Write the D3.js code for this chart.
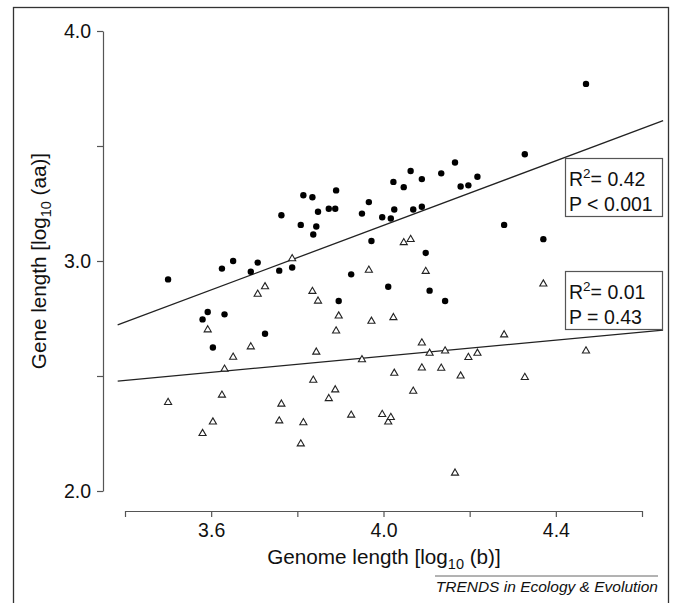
<!DOCTYPE html>
<html>
<head>
<meta charset="utf-8">
<script src="https://cdn.jsdelivr.net/npm/d3@7"></script>
<style>
  html, body { margin: 0; padding: 0; background: #fff; }
  svg { display: block; }
  text { font-family: "Liberation Sans", Arial, Helvetica, sans-serif; fill: #111; }
</style>
</head>
<body>
<svg id="chart" width="679" height="603"></svg>
<script>
// ---- data ----
const genomeLength = [3.50, 3.58, 3.592, 3.604, 3.625, 3.631, 3.651, 3.692, 3.708, 3.725,
  3.758, 3.763, 3.788, 3.808, 3.814, 3.835, 3.837, 3.844, 3.848, 3.873,
  3.888, 3.890, 3.896, 3.925, 3.950, 3.966, 3.972, 3.997, 4.011, 4.017,
  4.023, 4.025, 4.047, 4.063, 4.069, 4.089, 4.089, 4.098, 4.107, 4.134,
  4.143, 4.166, 4.179, 4.197, 4.218, 4.280, 4.328, 4.371, 4.470];
const geneLengthFilled = [2.920, 2.746, 2.778, 2.624, 2.967, 2.768, 3.000, 2.953, 2.993, 2.684,
  2.958, 3.199, 2.972, 3.157, 3.286, 3.277, 3.115, 3.150, 3.214, 3.227,
  3.227, 3.307, 2.826, 2.942, 3.206, 3.256, 3.087, 3.190, 2.888, 3.185,
  3.344, 3.224, 3.321, 3.391, 3.224, 3.356, 3.236, 3.035, 2.871, 3.381,
  2.826, 3.428, 3.324, 3.329, 3.366, 3.157, 3.464, 3.095, 3.770];
const geneLengthOpen = [2.385, 2.250, 2.701, 2.300, 2.417, 2.530, 2.582, 2.627, 2.856, 2.888,
  2.305, 2.378, 3.010, 2.205, 2.297, 2.868, 2.482, 2.604, 2.826, 2.402,
  2.440, 2.696, 2.761, 2.330, 2.571, 2.960, 2.738, 2.333, 2.300, 2.320,
  2.754, 2.512, 3.080, 3.094, 2.434, 2.644, 2.535, 2.955, 2.599, 2.534,
  2.609, 2.078, 2.500, 2.581, 2.599, 2.679, 2.494, 2.900, 2.609];
const fitIntercept = [0.347, 1.886];
const fitSlope = [0.702, 0.175];
const fitR2 = ["0.42", "0.01"];
const fitP = ["P < 0.001", "P = 0.43"];
const xTicks = [3.4, 3.6, 3.8, 4.0, 4.2, 4.4, 4.6];
const xTickLabels = ["3.6", "4.0", "4.4"];
const yTicks = [2.0, 2.5, 3.0, 3.5, 4.0];
const yTickLabels = ["2.0", "3.0", "4.0"];
const plotXRange = [3.383, 4.649];
const footer = "TRENDS in Ecology & Evolution";

// ---- drawing ----
const svg = d3.select("#chart");
const x = d3.scaleLinear().domain([3.4, 4.6]).range([125, 642]);
const y = d3.scaleLinear().domain([2.0, 4.0]).range([491, 31]);

// outer frame
svg.append("rect").attr("x", 13.5).attr("y", 7.5).attr("width", 655).attr("height", 610)
  .attr("fill", "none").attr("stroke", "#333").attr("stroke-width", 1.3);

// y axis
const yAxis = d3.axisLeft(y).tickValues(yTicks).tickSizeInner(6).tickSizeOuter(0).tickPadding(6)
  .tickFormat(d => yTickLabels.includes(d.toFixed(1)) ? d.toFixed(1) : "");
const gy = svg.append("g").attr("transform", "translate(103,0)").call(yAxis);
gy.selectAll("path, line").attr("stroke", "#555").attr("stroke-width", 1.2);
gy.selectAll("text").attr("font-size", 19.5).attr("fill", "#111")
  .attr("font-family", "Liberation Sans, Arial, sans-serif");

// x axis
const xAxis = d3.axisBottom(x).tickValues(xTicks).tickSizeInner(6).tickSizeOuter(0).tickPadding(6)
  .tickFormat(d => xTickLabels.includes(d.toFixed(1)) ? d.toFixed(1) : "");
const gx = svg.append("g").attr("transform", "translate(0,511)").call(xAxis);
gx.selectAll("path, line").attr("stroke", "#555").attr("stroke-width", 1.2);
gx.selectAll("text").attr("font-size", 19.5).attr("fill", "#111")
  .attr("font-family", "Liberation Sans, Arial, sans-serif");

// axis titles
const xt = svg.append("text").attr("x", 384).attr("y", 564).attr("text-anchor", "middle").attr("font-size", 20.7);
xt.append("tspan").text("Genome length [log");
xt.append("tspan").attr("font-size", 14.5).attr("dy", 5).text("10");
xt.append("tspan").attr("dy", -5).text(" (b)]");

const yt = svg.append("text").attr("transform", "translate(46,261) rotate(-90)")
  .attr("text-anchor", "middle").attr("font-size", 20.7);
yt.append("tspan").text("Gene length [log");
yt.append("tspan").attr("font-size", 14.5).attr("dy", 5).text("10");
yt.append("tspan").attr("dy", -5).text(" (aa)]");

// regression lines
fitIntercept.forEach((a, i) => {
  const b = fitSlope[i];
  svg.append("line")
    .attr("x1", x(plotXRange[0])).attr("y1", y(a + b * plotXRange[0]))
    .attr("x2", x(plotXRange[1])).attr("y2", y(a + b * plotXRange[1]))
    .attr("stroke", "#222").attr("stroke-width", 1.3);
});

// open triangles
const tri = d3.symbol().type(d3.symbolTriangle).size(22);
svg.append("g").selectAll("path").data(genomeLength).join("path")
  .attr("d", tri)
  .attr("transform", (d, i) => `translate(${x(d)},${y(geneLengthOpen[i])})`)
  .attr("fill", "#fff").attr("stroke", "#222").attr("stroke-width", 1.1);

// filled circles
svg.append("g").selectAll("circle").data(genomeLength).join("circle")
  .attr("cx", d => x(d)).attr("cy", (d, i) => y(geneLengthFilled[i]))
  .attr("r", 3.2).attr("fill", "#000");

// stat boxes
const boxTops = [158.5, 271.5];
boxTops.forEach((top, i) => {
  svg.append("rect").attr("x", 565.5).attr("y", top).attr("width", 97).attr("height", 58)
    .attr("fill", "#fff").attr("stroke", "#555").attr("stroke-width", 1.2);
  const t1 = svg.append("text").attr("x", 569).attr("y", top + 27).attr("font-size", 19.5);
  t1.append("tspan").text("R");
  t1.append("tspan").attr("font-size", 13.5).attr("dy", -8).text("2");
  t1.append("tspan").attr("dy", 8).text("= " + fitR2[i]);
  svg.append("text").attr("x", 569).attr("y", top + 52).attr("font-size", 19.5).text(fitP[i]);
});

// footer
svg.append("line").attr("x1", 435).attr("x2", 658).attr("y1", 576).attr("y2", 576)
  .attr("stroke", "#666").attr("stroke-width", 1);
svg.append("text").attr("x", 658).attr("y", 592).attr("text-anchor", "end")
  .attr("font-size", 15.5).attr("font-style", "italic").text(footer);
</script>
</body>
</html>
